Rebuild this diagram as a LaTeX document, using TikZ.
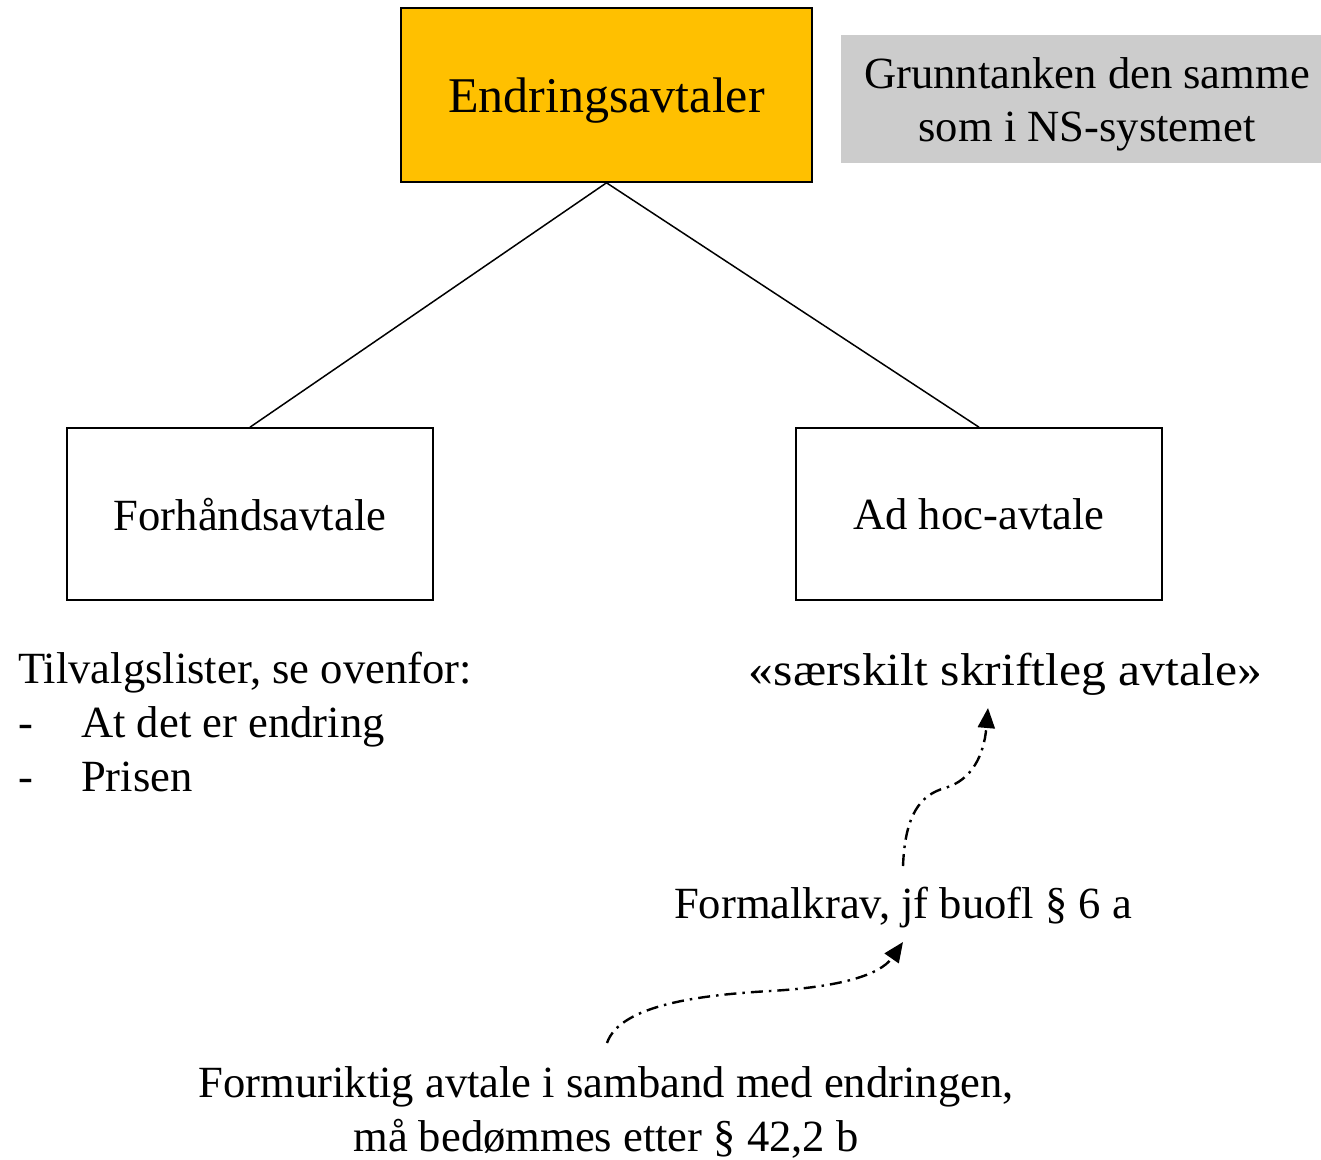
\documentclass[tikz,border=0pt]{standalone}
\usepackage{fontspec}
\setmainfont{Liberation Serif}
\usetikzlibrary{arrows.meta}
\definecolor{boxgold}{HTML}{FFC000}
\definecolor{notegray}{HTML}{CCCCCC}
\begin{document}
\begin{tikzpicture}[x=1pt,y=-1pt,
  txt/.style={font=\fontsize{44.6}{54}\selectfont, inner sep=0pt},
  box/.style={draw=black, line width=1.6pt, inner sep=0pt, text depth=0pt},
  link/.style={line width=1.5pt},
  hint/.style={line width=2.4pt, dash pattern=on 12pt off 6pt on 2.5pt off 6pt,
    -{Triangle[length=20pt,width=17pt]}}]
  \useasboundingbox (0,0) rectangle (1321,1159);

  % main concept and its two kinds
  \node[box, fill=boxgold, minimum width=411pt, minimum height=174pt,
        font=\fontsize{50}{60}\selectfont] (top) at (606.5,95) {Endringsavtaler};
  \node[box, minimum width=366pt, minimum height=172pt, txt, text depth=0pt] (pre) at (250,514) {Forhåndsavtale};
  \node[box, minimum width=366pt, minimum height=172pt, txt, text depth=0pt] (adhoc) at (979,514) {Ad hoc-avtale};

  \draw[link] (top.south) -- (pre.north);
  \draw[link] (top.south) -- (adhoc.north);

  % side note: grey panel with its two lines
  \node[fill=notegray, minimum width=480pt, minimum height=128pt, inner sep=0pt] (note) at (1081,99) {};
  \node[align=center, font=\fontsize{44.6}{53}\selectfont, inner sep=0pt] (notetext) at (1087,104)
        {Grunntanken den samme\\ som i NS-systemet};

  % list under the left box
  \node[txt, anchor=base west, align=left] (list) at (18,791)
    {Tilvalgslister, se ovenfor:\\
     \makebox[63pt][l]{-}At det er endring\\
     \makebox[63pt][l]{-}Prisen};

  % texts under the right box
  \node[txt] (form) at (1005.5,674) {\scalebox{1.08}[1]{\fontsize{46}{54}\selectfont «særskilt skriftleg avtale»}};
  \node[txt] (krav) at (903,908) {Formalkrav, jf buofl § 6 a};
  \node[txt, align=center] (wrong) at (606,1112)
    {Formuriktig avtale i samband med endringen,\\ må bedømmes etter § 42,2 b};

  \coordinate (kravtop) at (903,866);
  \coordinate (formbot) at (988,708);
  \coordinate (wrongtop) at (607,1043);
  \coordinate (kravbot) at (903,942);

  \draw[hint] (kravtop) .. controls (905,815) and (920,795) .. (945,788)
                        .. controls (972,780) and (984,755) .. (formbot);
  \draw[hint] (wrongtop) .. controls (620,1005) and (700,995) .. (770,991)
                         .. controls (840,987) and (880,975) .. (kravbot);
\end{tikzpicture}
\end{document}
